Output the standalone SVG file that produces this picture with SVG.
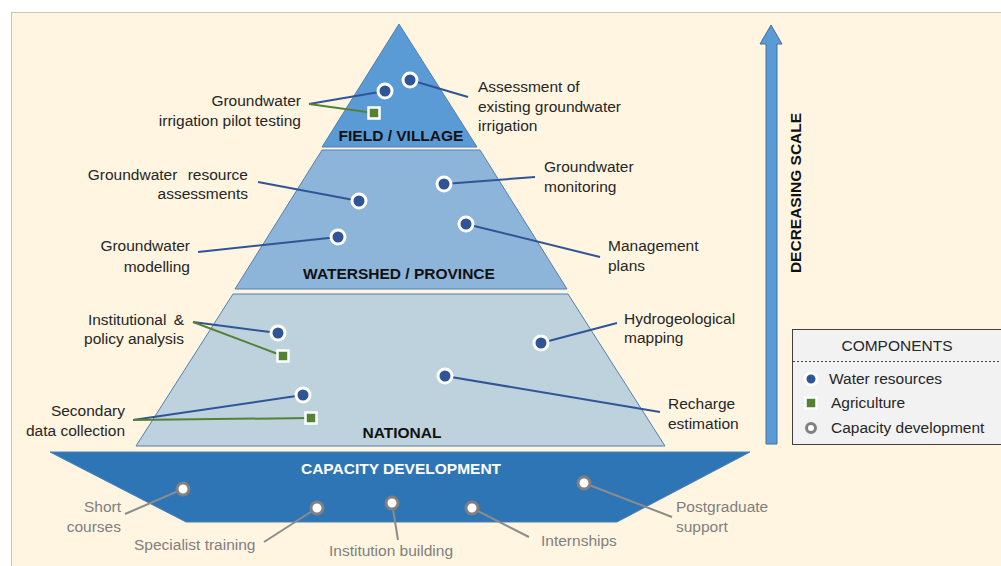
<svg xmlns="http://www.w3.org/2000/svg" width="1001" height="566" viewBox="0 0 1001 566">
<style>
text{font-family:"Liberation Sans",Arial,sans-serif;font-size:15.5px;fill:#262626}
.b{font-weight:bold;fill:#111}
.w{font-weight:bold;fill:#fff}
.g{fill:#7f7f7f}
.r{text-anchor:end}
.m{text-anchor:middle}
.lb{stroke:#2f5597;stroke-width:2;fill:none}
.lg{stroke:#548235;stroke-width:2;fill:none}
.lc{stroke:#8c8c8c;stroke-width:2;fill:none}
.dot{fill:#2f5597;stroke:#fff;stroke-width:3}
.sq{fill:#548235;stroke:#fff;stroke-width:2.5}
.cd{fill:#fff;stroke:#808080;stroke-width:3}
.lay{stroke:#4f81b3;stroke-width:1}
</style>
<rect x="11.5" y="12.5" width="1000" height="560" fill="#fff5e0" stroke="#c8c4bc" stroke-width="1"/>
<g id="layer-field"><polygon class="lay" points="399,24 477,147 322,147" fill="#5b9bd5"/><text class="b m" x="401" y="141">FIELD / VILLAGE</text></g>
<g id="layer-watershed"><polygon class="lay" points="322,150 480,150 567,289 235,289" fill="#8db4d9"/><text class="b m" x="399" y="279">WATERSHED / PROVINCE</text></g>
<g id="layer-national"><polygon class="lay" points="233,294 568,294 665,446 136,446" fill="#bdd2dd"/><text class="b m" x="402" y="438">NATIONAL</text></g>
<g id="layer-capacity"><polygon class="lay" points="50,452 750,452 617,522 186,522" fill="#2e75b6"/><text class="w m" x="401" y="474">CAPACITY DEVELOPMENT</text></g>
<g id="scale-arrow"><polygon points="766,444 777,444 777,44 782,44 771,25 760,44 766,44" fill="#5b9bd5" stroke="#41719c" stroke-width="1"/><text class="b m" transform="translate(801,193) rotate(-90)">DECREASING SCALE</text></g>
<g id="connectors">
<polyline class="lb" points="309,104 385,91"/>
<polyline class="lg" points="309,104 374,113"/>
<polyline class="lb" points="410,80 468,97"/>
<polyline class="lb" points="258,182 359,201"/>
<polyline class="lb" points="198,252 338,237"/>
<polyline class="lb" points="444,184 535,177"/>
<polyline class="lb" points="466,224 600,257"/>
<polyline class="lb" points="193,322 278,333"/>
<polyline class="lg" points="193,322 283,356"/>
<polyline class="lb" points="133,420 303,395"/>
<polyline class="lg" points="133,420 311,418"/>
<polyline class="lb" points="541,343 617,323"/>
<polyline class="lb" points="445,376 660,412"/>
<polyline class="lc" points="183,489 125,514"/>
<polyline class="lc" points="317,508 264,542"/>
<polyline class="lc" points="392,503 398,540"/>
<polyline class="lc" points="472,508 529,537"/>
<polyline class="lc" points="584,483 672,517"/>
</g>
<g id="n-irrigation-pilot"><circle class="dot" cx="385" cy="91" r="7"/><rect class="sq" x="368.5" y="107.5" width="11" height="11"/><text class="r" x="301" y="106">Groundwater</text><text class="r" x="301" y="126">irrigation pilot testing</text></g>
<g id="n-assessment-existing"><circle class="dot" cx="410" cy="80" r="7"/><text x="478" y="92">Assessment of</text><text x="478" y="112">existing groundwater</text><text x="478" y="131">irrigation</text></g>
<g id="n-resource-assessments"><circle class="dot" cx="359" cy="201" r="7"/><text class="r" x="248" y="180" word-spacing="6">Groundwater resource</text><text class="r" x="248" y="199">assessments</text></g>
<g id="n-modelling"><circle class="dot" cx="338" cy="237" r="7"/><text class="r" x="190" y="251">Groundwater</text><text class="r" x="190" y="272">modelling</text></g>
<g id="n-monitoring"><circle class="dot" cx="444" cy="184" r="7"/><text x="544" y="172">Groundwater</text><text x="544" y="192">monitoring</text></g>
<g id="n-management"><circle class="dot" cx="466" cy="224" r="7"/><text x="608" y="251">Management</text><text x="608" y="271">plans</text></g>
<g id="n-institutional"><circle class="dot" cx="278" cy="333" r="7"/><rect class="sq" x="277.5" y="350.5" width="11" height="11"/><text class="r" x="184" y="325" word-spacing="3">Institutional &amp;</text><text class="r" x="184" y="344">policy analysis</text></g>
<g id="n-secondary"><circle class="dot" cx="303" cy="395" r="7"/><rect class="sq" x="305.5" y="412.5" width="11" height="11"/><text class="r" x="125" y="416">Secondary</text><text class="r" x="125" y="436">data collection</text></g>
<g id="n-hydrogeological"><circle class="dot" cx="541" cy="343" r="7"/><text x="624" y="324">Hydrogeological</text><text x="624" y="343">mapping</text></g>
<g id="n-recharge"><circle class="dot" cx="445" cy="376" r="7"/><text x="668" y="409">Recharge</text><text x="668" y="429">estimation</text></g>
<g id="n-short-courses"><circle class="cd" cx="183" cy="489" r="6"/><text class="g r" x="121" y="512">Short</text><text class="g r" x="121" y="532">courses</text></g>
<g id="n-specialist"><circle class="cd" cx="317" cy="508" r="6"/><text class="g" x="134" y="550">Specialist training</text></g>
<g id="n-institution"><circle class="cd" cx="392" cy="503" r="6"/><text class="g m" x="391" y="556">Institution building</text></g>
<g id="n-internships"><circle class="cd" cx="472" cy="508" r="6"/><text class="g" x="541" y="546">Internships</text></g>
<g id="n-postgraduate"><circle class="cd" cx="584" cy="483" r="6"/><text class="g" x="676" y="512">Postgraduate</text><text class="g" x="676" y="532">support</text></g>
<g id="legend">
<rect x="792.5" y="329.5" width="220" height="115" fill="#f2f2f2" stroke="#404040" stroke-width="1"/>
<line x1="793" y1="361.5" x2="1001" y2="361.5" stroke="#404040" stroke-width="1" stroke-dasharray="2,2"/>
<text class="m" x="897" y="351">COMPONENTS</text>
<circle class="dot" cx="811" cy="379" r="6"/><text x="829" y="384">Water resources</text>
<rect class="sq" x="805.5" y="397.5" width="11" height="11"/><text x="831" y="408">Agriculture</text>
<circle class="cd" cx="811" cy="428" r="4.5" stroke-width="2.5"/><text x="831" y="433">Capacity development</text>
</g>
</svg>
